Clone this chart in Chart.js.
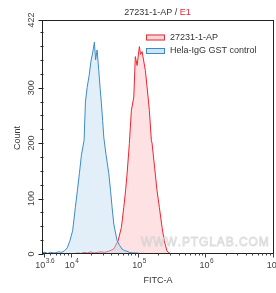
<!DOCTYPE html>
<html>
<head>
<meta charset="utf-8">
<script src="https://cdn.jsdelivr.net/npm/chart.js@4/dist/chart.umd.min.js"></script>
<style>
  html, body { margin: 0; padding: 0; background: #fff; }
  #wrap { width: 276px; height: 293px; }
</style>
</head>
<body>
<div id="wrap"><canvas id="histChart"></canvas></div>
<script>
// Histogram data, x = log10(FITC-A), y = count
const ctrlX = [3.58, 3.62, 3.66, 3.70, 3.74, 3.77, 3.82, 3.87, 3.91, 3.95, 3.99, 4.03, 4.07, 4.10, 4.13, 4.16, 4.20, 4.22, 4.245, 4.275, 4.30, 4.335, 4.353, 4.371, 4.393, 4.418, 4.438, 4.457, 4.475, 4.493, 4.527, 4.567, 4.593, 4.616, 4.641, 4.69, 4.73, 4.764, 4.80, 4.838, 4.87, 4.912, 4.96, 5.031, 5.10, 5.18];
const ctrlY = [2, 3, 1, 3, 2, 2, 4, 3, 6, 11, 24, 42, 84, 114, 145, 178, 205, 274, 300, 322, 346, 368, 382, 350, 368, 331, 299, 272, 241, 210, 178, 145, 114, 84, 54, 24, 15, 9, 6, 5, 3, 2, 2, 1, 1, 0];
const abX = [4.05, 4.10, 4.15, 4.20, 4.25, 4.30, 4.35, 4.40, 4.45, 4.50, 4.567, 4.641, 4.705, 4.754, 4.789, 4.816, 4.838, 4.872, 4.902, 4.938, 4.961, 4.987, 5.021, 5.039, 5.061, 5.11, 5.15, 5.169, 5.199, 5.209, 5.258, 5.283, 5.318, 5.358, 5.39, 5.432, 5.476];
const abY = [0, 2, 1, 3, 2, 4, 2, 3, 4, 3, 5, 9, 24, 48, 84, 114, 144, 199, 259, 283, 356, 340, 374, 360, 365, 331, 283, 259, 205, 200, 144, 114, 84, 48, 24, 5, 1];

const yTicks = [0, 100, 200, 300, 422];
const xDecades = [4, 5, 6, 7];
const xMin = 3.575, xMax = 7.02;
const seriesNames = ['27231-1-AP', 'Hela-IgG GST control'];

const FONT = '"Liberation Sans", Arial, sans-serif';

const decor = {
    id: 'decor',
    afterDraw(chart) {
        const c = chart.ctx;
        const a = chart.chartArea;
        const xs = chart.scales.x, ys = chart.scales.y;
        c.save();

        // watermark (under the frame)
        c.font = '12px ' + FONT;
        c.textAlign = 'left';
        c.textBaseline = 'middle';
        c.fillStyle = 'rgba(246,246,246,0.7)';
        c.strokeStyle = 'rgba(185,185,185,0.45)';
        c.lineWidth = 0.9;
        const wm = 'WWW.PTGLAB.COM';
        let wx = 141;
        for (const ch of wm) {
            c.fillText(ch, wx, 243);
            c.strokeText(ch, wx, 243);
            wx += c.measureText(ch).width + 0.9;
        }

        // frame
        c.strokeStyle = '#222';
        c.lineWidth = 1;
        c.strokeRect(Math.round(a.left) + 0.5, Math.round(a.top) + 0.5, Math.round(a.right - a.left) - 1, Math.round(a.bottom - a.top) - 1);

        // y ticks
        const yl = Math.round(a.left) + 0.5;
        c.beginPath();
        for (let v = 0; v <= 422; v += 25) {
            const py = Math.round(ys.getPixelForValue(v)) + 0.5;
            c.moveTo(yl - 2, py); c.lineTo(yl + 1, py);
        }
        yTicks.forEach(v => {
            const py = Math.round(ys.getPixelForValue(v)) + 0.5;
            c.moveTo(yl - 4, py); c.lineTo(yl, py);
        });
        c.stroke();

        c.fillStyle = '#444';
        c.font = '9px ' + FONT;
        c.textAlign = 'center';
        c.textBaseline = 'middle';
        yTicks.forEach(v => {
            c.save();
            c.translate(32, ys.getPixelForValue(v));
            c.rotate(-Math.PI / 2);
            c.fillText(String(v), 0, 0);
            c.restore();
        });

        // x ticks
        const xb = Math.round(a.bottom) - 0.5;
        c.strokeStyle = '#444';
        c.beginPath();
        for (let d = 3; d <= 7; d++) {
            for (let k = 2; k <= 9; k++) {
                const lv = d + Math.log10(k);
                if (lv < xMin || lv > xMax) continue;
                const px = Math.round(xs.getPixelForValue(lv)) + 0.5;
                c.moveTo(px, xb); c.lineTo(px, xb + 2);
            }
        }
        xDecades.concat([3.6]).forEach(d => {
            const px = Math.round(xs.getPixelForValue(d)) + 0.5;
            c.moveTo(px, xb); c.lineTo(px, xb + 4);
        });
        c.stroke();

        // x tick labels: 10 with superscript exponent
        const drawPow = (cx, exp) => {
            c.font = '9px ' + FONT;
            const wb = c.measureText('10').width;
            c.font = '6.5px ' + FONT;
            const we = c.measureText(exp).width;
            const x0 = cx - (wb + we) / 2;
            c.textAlign = 'left';
            c.textBaseline = 'alphabetic';
            c.font = '9px ' + FONT;
            c.fillText('10', x0, 268);
            c.font = '6.5px ' + FONT;
            c.fillText(exp, x0 + wb + 0.5, 263);
        };
        c.fillStyle = '#444';
        drawPow(xs.getPixelForValue(3.6) + 1, '3.6');
        xDecades.forEach(d => drawPow(xs.getPixelForValue(d) + 1, String(d)));

        // axis titles
        c.font = '9px ' + FONT;
        c.textAlign = 'center';
        c.textBaseline = 'middle';
        c.fillStyle = '#333';
        c.fillText('FITC-A', 158, 281);
        c.save();
        c.translate(18, 138);
        c.rotate(-Math.PI / 2);
        c.fillText('Count', 0, 0);
        c.restore();

        // title with red sample id
        const t1 = '27231-1-AP / ', t2 = 'E1';
        const w1 = c.measureText(t1).width, w2 = c.measureText(t2).width;
        const tx = 157.5 - (w1 + w2) / 2;
        c.textAlign = 'left';
        c.fillStyle = '#333';
        c.fillText(t1, tx, 12.5);
        c.fillStyle = '#e8253a';
        c.fillText(t2, tx + w1, 12.5);

        // legend
        const legend = [
            { y: 37.5, fill: '#fbd6d8', stroke: '#e0303a' },
            { y: 51, fill: '#cfe5f4', stroke: '#3b8bc8' }
        ];
        legend.forEach((l, i) => {
            c.fillStyle = l.fill;
            c.fillRect(146, l.y - 3, 19, 6);
            c.strokeStyle = l.stroke;
            c.lineWidth = 1;
            c.strokeRect(146.5, l.y - 2.5, 18, 5);
            c.fillStyle = '#333';
            c.font = '9px ' + FONT;
            c.textBaseline = 'middle';
            c.fillText(seriesNames[i], 170, l.y);
        });

        c.restore();
    }
};

new Chart(document.getElementById('histChart'), {
    type: 'line',
    data: {
        datasets: [{
            label: seriesNames[1],
            data: ctrlX.map((x, i) => ({ x: x, y: ctrlY[i] })),
            borderColor: '#3b8bc8',
            backgroundColor: 'rgba(190,220,240,0.45)',
            borderWidth: 1,
            fill: 'origin',
            pointRadius: 0,
            tension: 0
        }, {
            label: seriesNames[0],
            data: abX.map((x, i) => ({ x: x, y: abY[i] })),
            borderColor: '#f0232e',
            backgroundColor: 'rgba(250,180,186,0.4)',
            borderWidth: 1,
            fill: 'origin',
            pointRadius: 0,
            tension: 0
        }]
    },
    options: {
        responsive: true,
        maintainAspectRatio: false,
        animation: false,
        layout: { padding: { left: 42, top: 20, right: 2, bottom: 39 } },
        plugins: {
            legend: { display: false },
            tooltip: { enabled: false }
        },
        scales: {
            x: { type: 'linear', min: xMin, max: xMax, display: false },
            y: { min: 0, max: 422, display: false }
        }
    },
    plugins: [decor]
});
</script>
</body>
</html>
